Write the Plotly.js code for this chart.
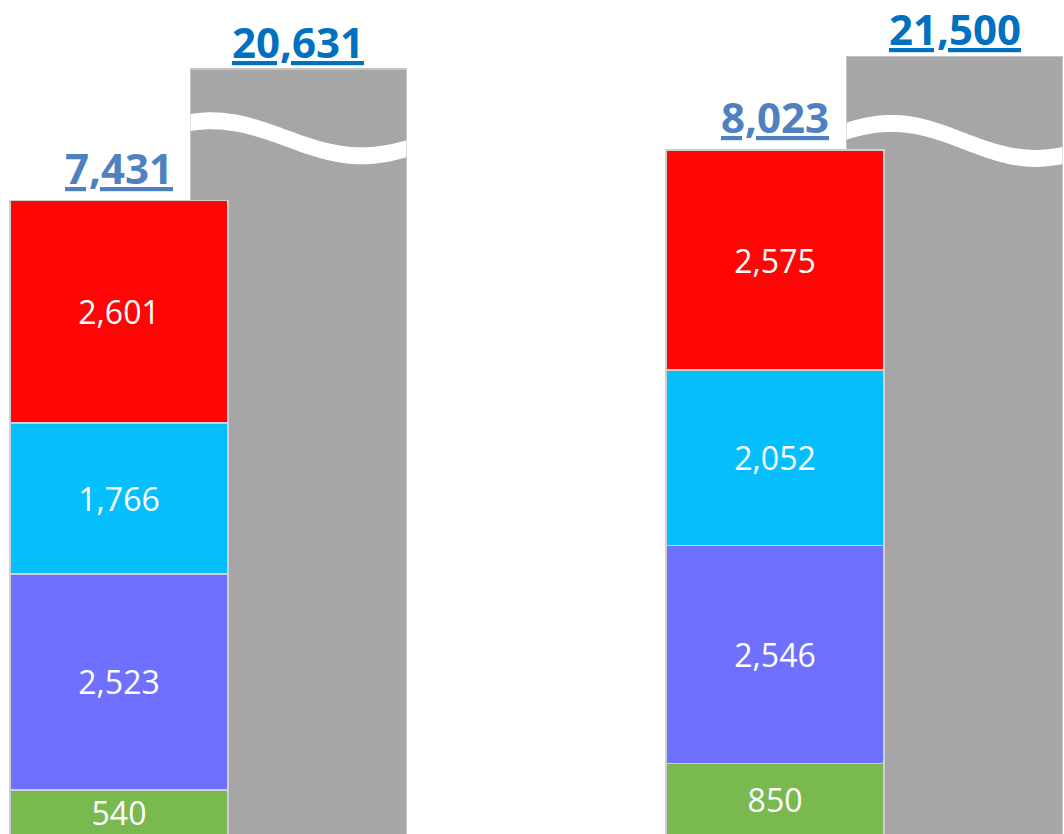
<!DOCTYPE html>
<html><head><meta charset="utf-8">
<script src="https://cdn.plot.ly/plotly-3.0.1.min.js"></script>
<style>html,body{margin:0;padding:0;background:#fff;overflow:hidden}#chart{width:1064px;height:834px}</style>
</head><body><div id="chart"></div>
<script>
// ---- data ----
const groups = [0, 1];
const greenValues  = [540, 850];
const purpleValues = [2523, 2546];
const cyanValues   = [1766, 2052];
const redValues    = [2601, 2575];
const stackTotals  = [7431, 8023];
const grayTotals   = [20631, 21500];
const grayBrokenHeights = [8970, 9120];   // height drawn on the broken axis

// ---- style / layout ----
const W = 1064, H = 834;
const xRange = [-0.1814, 1.4405];
const yRange = [23, 9778];
const pxX = W / (xRange[1] - xRange[0]);
const pxY = H / (yRange[1] - yRange[0]);
const stackWidth = 0.3323, grayWidth = 0.329, grayOffset = 0.2736;
const FONT = 'Segoe UI, Open Sans, Noto Sans, sans-serif';
const edge = {color: '#cfcfcf', width: 1.5};

function seg(vals, color) {
  return {type: 'bar', x: groups, y: vals, width: stackWidth,
    marker: {color: color, line: edge},
    texttemplate: '%{y:,}', textposition: 'inside', insidetextanchor: 'middle',
    textangle: 0, constraintext: 'none',
    insidetextfont: {family: FONT, size: 32, color: '#ffffff'},
    hoverinfo: 'skip'};
}
const grayX = groups.map(g => g + grayOffset);
const traces = [
  {type: 'bar', x: grayX, y: grayBrokenHeights, width: grayWidth,
   marker: {color: '#a6a6a6', line: {color: '#c4c4c4', width: 1.5}}, hoverinfo: 'skip'},
  seg(greenValues, '#7ab850'),
  seg(purpleValues, '#7070ff'),
  seg(cyanValues, '#05bffd'),
  seg(redValues, '#ff0505')
];

// wave break on gray bars
const waveMid = [8160, 8130];
const peakOffPx = [21, 45], halfPeriodPx = [150, 144], ampPx = 17.5, bandHalfPx = 8.5;
const shapes = grayX.map((gx, i) => {
  const xL = gx - grayWidth / 2, wPx = grayWidth * pxX, N = 60;
  const top = [], bot = [];
  for (let k = 0; k <= N; k++) {
    const t = k / N * wPx;
    const xd = xL + t / pxX;
    const c = waveMid[i] + (ampPx / pxY) * Math.cos(Math.PI * (t - peakOffPx[i]) / halfPeriodPx[i]);
    top.push([xd, c + bandHalfPx / pxY]);
    bot.push([xd, c - bandHalfPx / pxY]);
  }
  const pts = top.concat(bot.reverse());
  const d = 'M' + pts.map(p => p[0].toFixed(5) + ',' + p[1].toFixed(2)).join(' L') + ' Z';
  return {type: 'path', path: d, xref: 'x', yref: 'y', fillcolor: '#ffffff', line: {width: 0}, layer: 'above'};
});

const fmt = v => v.toLocaleString('en-US');
const annotations = [];
groups.forEach((g, i) => {
  annotations.push({x: g, y: stackTotals[i], xref: 'x', yref: 'y', yanchor: 'bottom', showarrow: false,
    text: '<b><u>' + fmt(stackTotals[i]) + '</u></b>', yshift: 3,
    font: {family: FONT, size: 42, color: '#4f81c0'}});
  annotations.push({x: grayX[i], y: grayBrokenHeights[i], xref: 'x', yref: 'y', yanchor: 'bottom', showarrow: false,
    text: '<b><u>' + fmt(grayTotals[i]) + '</u></b>', yshift: -3,
    font: {family: FONT, size: 42, color: '#0070c0'}});
});

const layout = {
  width: W, height: H, margin: {l: 0, r: 0, t: 0, b: 0, pad: 0},
  paper_bgcolor: '#ffffff', plot_bgcolor: '#ffffff',
  barmode: 'stack', showlegend: false,
  xaxis: {range: xRange, visible: false, fixedrange: true},
  yaxis: {range: yRange, visible: false, fixedrange: true},
  shapes: shapes, annotations: annotations
};
Plotly.newPlot('chart', traces, layout, {displayModeBar: false, staticPlot: true});
</script></body></html>
